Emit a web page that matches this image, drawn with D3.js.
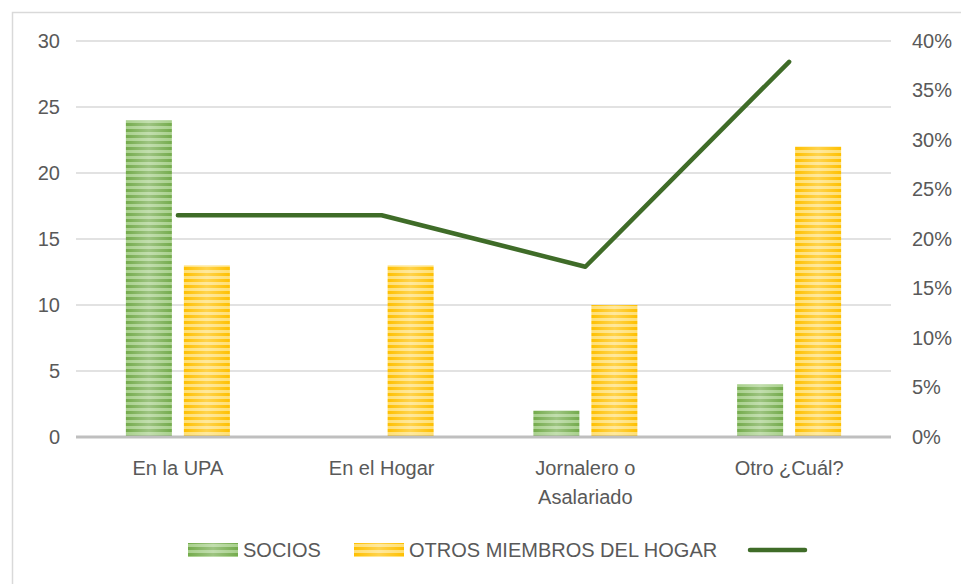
<!DOCTYPE html>
<html>
<head>
<meta charset="utf-8">
<script src="https://cdn.jsdelivr.net/npm/d3@7"></script>
<style>
  body { margin: 0; background: #fff; }
  text { font-family: "Liberation Sans", sans-serif; fill: #595959; }
</style>
</head>
<body>
<div id="my_dataviz"></div>
<script>
const categories = ["En la UPA", "En el Hogar", "Jornalero o Asalariado", "Otro ¿Cuál?"];
const socios = [24, 0, 2, 4];
const otros = [13, 13, 10, 22];
const porcentaje = [0.224, 0.224, 0.172, 0.379];
const leftTicks = [0, 5, 10, 15, 20, 25, 30];
const rightTicks = [0, 0.05, 0.1, 0.15, 0.2, 0.25, 0.3, 0.35, 0.4];

const width = 961, height = 584;
const margin = { top: 41, right: 70, bottom: 147, left: 76 };
const fs = "20px";

const svg = d3.select("#my_dataviz").append("svg")
  .attr("width", width)
  .attr("height", height);

const defs = svg.append("defs");

// striped fills, like the excel texture
function stripes(id, dark, light) {
  const p = defs.append("pattern")
    .attr("id", id)
    .attr("patternUnits", "userSpaceOnUse")
    .attr("width", 8).attr("height", 6);
  p.append("rect").attr("width", 8).attr("height", 6).attr("fill", dark);
  p.append("rect").attr("y", 0).attr("width", 8).attr("height", 3).attr("fill", light);
}
stripes("stGreen", "#74ab4c", "#a8d08c");
stripes("stYellow", "#ffc000", "#ffdf73");

const shine = defs.append("linearGradient").attr("id", "shine")
  .attr("x1", "0").attr("x2", "1").attr("y1", "0").attr("y2", "0");
shine.append("stop").attr("offset", "0").attr("stop-color", "#fff").attr("stop-opacity", 0);
shine.append("stop").attr("offset", "0.5").attr("stop-color", "#fff").attr("stop-opacity", 0.3);
shine.append("stop").attr("offset", "1").attr("stop-color", "#fff").attr("stop-opacity", 0);

// chart frame
svg.append("path")
  .attr("d", `M12.5,${height} V12.5 H${width}`)
  .attr("fill", "none").attr("stroke", "#d9d9d9").attr("stroke-width", 1.5);

const x0 = d3.scaleBand().domain(categories)
  .range([margin.left, width - margin.right]);
const y = d3.scaleLinear().domain([0, 30]).range([height - margin.bottom, margin.top]);
const y2 = d3.scaleLinear().domain([0, 0.4]).range([height - margin.bottom, margin.top]);

// gridlines
svg.append("g")
  .selectAll("line").data(leftTicks.slice(1)).join("line")
  .attr("x1", margin.left).attr("x2", width - margin.right)
  .attr("y1", d => y(d)).attr("y2", d => y(d))
  .attr("stroke", "#d9d9d9").attr("stroke-width", 1.5);

// left axis
const yAxis = svg.append("g")
  .attr("transform", `translate(${margin.left},0)`)
  .call(d3.axisLeft(y).tickValues(leftTicks).tickSize(0).tickPadding(16));
yAxis.select(".domain").remove();
yAxis.selectAll("text").style("font-size", fs);

// right axis
const y2Axis = svg.append("g")
  .attr("transform", `translate(${width - margin.right},0)`)
  .call(d3.axisRight(y2).tickValues(rightTicks).tickSize(0).tickPadding(21).tickFormat(d3.format(".0%")));
y2Axis.select(".domain").remove();
y2Axis.selectAll("text").style("font-size", fs);

// bars
const barW = 46, gap = 12;
const groups = svg.append("g").selectAll("g").data(categories).join("g")
  .attr("transform", d => `translate(${x0(d) + x0.bandwidth() / 2},0)`);

groups.each(function(d, i) {
  const g = d3.select(this);
  const vals = [
    { v: socios[i], x: -gap / 2 - barW, fill: "url(#stGreen)" },
    { v: otros[i], x: gap / 2, fill: "url(#stYellow)" }
  ];
  vals.forEach(b => {
    if (b.v <= 0) return;
    g.append("rect")
      .attr("x", b.x).attr("y", y(b.v))
      .attr("width", barW).attr("height", y(0) - y(b.v))
      .attr("fill", b.fill);
    g.append("rect")
      .attr("x", b.x).attr("y", y(b.v))
      .attr("width", barW).attr("height", y(0) - y(b.v))
      .attr("fill", "url(#shine)");
  });
});

// x axis line
svg.append("line")
  .attr("x1", margin.left).attr("x2", width - margin.right)
  .attr("y1", y(0)).attr("y2", y(0))
  .attr("stroke", "#bfbfbf").attr("stroke-width", 3);

// category labels
const xl = svg.append("g").selectAll("text").data(categories).join("text")
  .attr("text-anchor", "middle")
  .attr("x", d => x0(d) + x0.bandwidth() / 2)
  .attr("y", y(0) + 38)
  .style("font-size", fs);
xl.each(function(d) {
  const t = d3.select(this);
  const parts = d === "Jornalero o Asalariado" ? ["Jornalero o", "Asalariado"] : [d];
  parts.forEach((p, k) => {
    t.append("tspan").attr("x", x0(d) + x0.bandwidth() / 2).attr("dy", k === 0 ? 0 : 29).text(p);
  });
});

// line (secondary axis)
const line = d3.line()
  .x(d => x0(d.c) + x0.bandwidth() / 2)
  .y(d => y2(d.p));
svg.append("path")
  .datum(categories.map((c, i) => ({ c: c, p: porcentaje[i] })))
  .attr("fill", "none")
  .attr("stroke", "#3f6c28")
  .attr("stroke-width", 4.5)
  .attr("stroke-linecap", "round")
  .attr("stroke-linejoin", "round")
  .attr("d", line);

// legend
const leg = svg.append("g").attr("transform", "translate(0,550)");
leg.append("rect").attr("x", 188).attr("y", -7).attr("width", 50).attr("height", 14).attr("fill", "url(#stGreen)");
leg.append("rect").attr("x", 188).attr("y", -7).attr("width", 50).attr("height", 14).attr("fill", "url(#shine)");
leg.append("text").attr("x", 243).attr("y", 7).style("font-size", fs).text("SOCIOS");
leg.append("rect").attr("x", 354).attr("y", -7).attr("width", 50).attr("height", 14).attr("fill", "url(#stYellow)");
leg.append("rect").attr("x", 354).attr("y", -7).attr("width", 50).attr("height", 14).attr("fill", "url(#shine)");
leg.append("text").attr("x", 409).attr("y", 7).style("font-size", fs).text("OTROS MIEMBROS DEL HOGAR");
leg.append("line").attr("x1", 750).attr("x2", 805).attr("y1", 0).attr("y2", 0)
  .attr("stroke", "#3f6c28").attr("stroke-width", 4.5).attr("stroke-linecap", "round");
</script>
</body>
</html>
